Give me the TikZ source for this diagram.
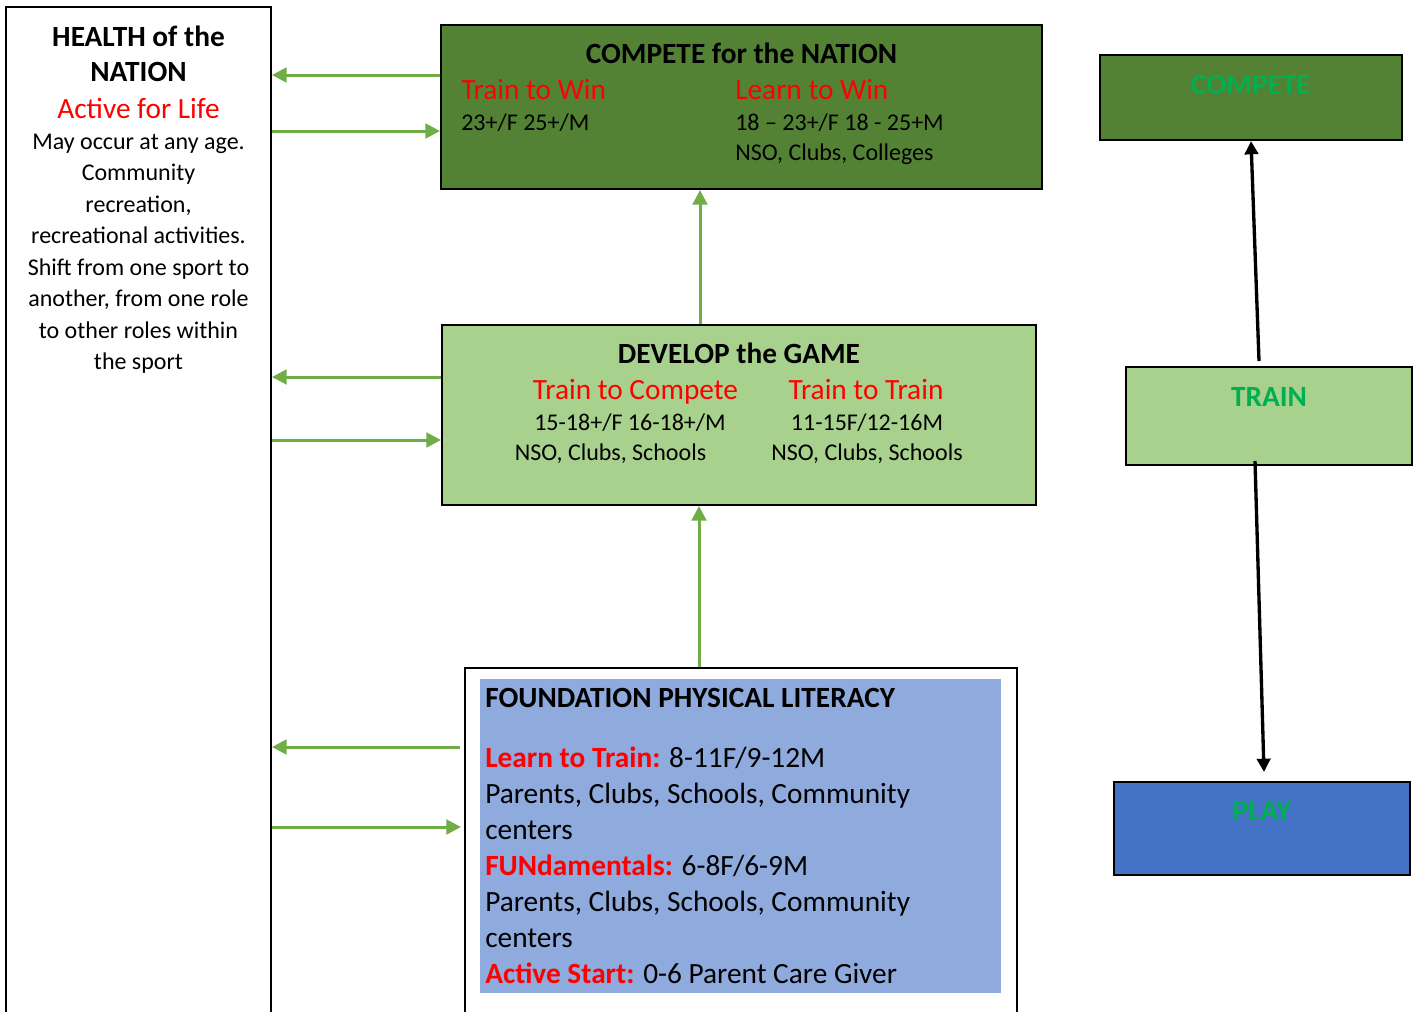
\documentclass[tikz,border=0pt]{standalone}
\usepackage{fontspec}
\setmainfont{Carlito}
\usetikzlibrary{arrows.meta,fit,calc}

\definecolor{darkgrn}{RGB}{84,130,53}
\definecolor{lightgrn}{RGB}{169,209,142}
\definecolor{paleblue}{RGB}{143,170,220}
\definecolor{playblue}{RGB}{68,114,196}
\definecolor{brightgrn}{RGB}{0,176,80}
\definecolor{arrowgrn}{RGB}{112,173,71}

\tikzset{
  box/.style={draw=black, line width=1.5pt, inner sep=0pt},
  garrow/.style={color=arrowgrn, line width=2.25pt, -{Triangle[length=11pt,width=11pt]}},
  barrow/.style={color=black, line width=2.5pt, -{Triangle[length=10pt,width=10pt]}},
  ttl/.style={inner sep=0pt, font=\fontsize{22}{26.25}\selectfont\bfseries},
  redtxt/.style={inner sep=0pt, text=red, font=\fontsize{22}{26.25}\selectfont},
  bodytxt/.style={inner sep=0pt, font=\fontsize{18}{22.5}\selectfont},
  bigtxt/.style={inner sep=0pt, font=\fontsize{22}{27}\selectfont},
  tagtxt/.style={inner sep=0pt, text=brightgrn, font=\fontsize{22}{26.25}\selectfont\bfseries}
}

\begin{document}
\begin{tikzpicture}[x=0.75pt,y=0.75pt,yscale=-1,xscale=1]
\useasboundingbox (0,0) rectangle (1419,1011);
\clip (0,0) rectangle (1419,1011);

%Shape: Rectangle [health of the nation]
\node[box, fit={(6,7) (271,1030)}] (health) {};
%Shape: Rectangle [compete for the nation]
\node[box, fill=darkgrn, fit={(441,25) (1042,189)}] (compete) {};
%Shape: Rectangle [develop the game]
\node[box, fill=lightgrn, fit={(442,325) (1036,505)}] (develop) {};
%Shape: Rectangle [foundation]
\node[box, fill=white, fit={(465,668) (1017,1030)}] (found) {};
\node[inner sep=0pt, fill=paleblue, fit={(480,679) (1001,993)}] (foundbg) {};
%Shape: Rectangle [right column]
\node[box, fill=darkgrn, fit={(1100,55) (1402,140)}] (rcompete) {};
\node[box, fill=lightgrn, fit={(1126,367) (1412,465)}] (train) {};
\node[box, fill=playblue, fit={(1114,782) (1410,875)}] (play) {};

% Text Node
\node[ttl, anchor=base, text width=190pt, align=flush center] (hnttl) at (138.5,46.7) {HEALTH of the\\NATION};
\node[redtxt, anchor=base] (hnred) at (138.5,118) {Active for Life};
\node[bodytxt, font=\fontsize{18}{23.6}\selectfont, anchor=base, text width=195pt, align=flush center] (hnbody) at (138.5,149.5) {May occur at any age.\\Community\\recreation,\\recreational activities.\\Shift from one sport to\\another, from one role\\to other roles within\\the sport};

% Text Node
\node[ttl, anchor=base] (cpttl) at (741.5,63) {COMPETE for the NATION};
\node[redtxt, anchor=base west] (cpwin) at (461,99) {Train to Win};
\node[bodytxt, anchor=base west] (cpwinage) at (461,130) {23+/F 25+/M};
\node[redtxt, anchor=base west] (cplearn) at (735,99) {Learn to Win};
\node[bodytxt, anchor=base west, text width=220pt, align=flush left] (cplearnage) at (735,130) {18 – 23+/F 18 - 25+M\\NSO, Clubs, Colleges};

% Text Node
\node[ttl, anchor=base] (dvttl) at (739,363) {DEVELOP the GAME};
\node[redtxt, anchor=base] (dvcomp) at (635.5,399) {Train to Compete};
\node[bodytxt, anchor=base] (dvcompage) at (630,430) {15-18+/F 16-18+/M};
\node[bodytxt, anchor=base] (dvcompwho) at (610.5,460) {NSO, Clubs, Schools};
\node[redtxt, anchor=base] (dvtrain) at (866,399) {Train to Train};
\node[bodytxt, anchor=base, text width=180pt, align=flush center] (dvtrainage) at (867,430) {11-15F/12-16M\\NSO, Clubs, Schools};

% Text Node
\node[ttl, anchor=base west] (fdttl) at (485,707) {FOUNDATION PHYSICAL LITERACY};
\node[bigtxt, anchor=base west, text width=390pt, align=flush left] (fdbody) at (485,767.4) {\textcolor{red}{\bfseries Learn to Train:} 8-11F/9-12M\\Parents, Clubs, Schools, Community\\centers\\\textcolor{red}{\bfseries FUNdamentals:} 6-8F/6-9M\\Parents, Clubs, Schools, Community\\centers\\\textcolor{red}{\bfseries Active Start:} 0-6 Parent Care Giver};

% Text Node
\node[tagtxt, anchor=base] (cptag) at (1251,94) {COMPETE};
\node[tagtxt, anchor=base] (trtag) at (1269,406) {TRAIN};
\node[tagtxt, anchor=base] (plytag) at (1262,820) {PLAY};

%Straight Lines [green, left and right]
\coordinate (cw1) at ($(compete.west)+(0,-32)$);
\coordinate (cw2) at ($(compete.west)+(0,24)$);
\draw[garrow] (cw1) -- (cw1 -| health.east);
\draw[garrow] (cw2 -| health.east) -- (cw2);
\coordinate (dw1) at ($(develop.west)+(0,-38)$);
\coordinate (dw2) at ($(develop.west)+(0,25)$);
\draw[garrow] (dw1) -- (dw1 -| health.east);
\draw[garrow] (dw2 -| health.east) -- (dw2);
\coordinate (fd1) at ($(found.west)+(-4,-102)$);
\coordinate (fd2) at ($(found.west)+(-3,-22)$);
\draw[garrow] (fd1) -- (fd1 -| health.east);
\draw[garrow] (fd2 -| health.east) -- (fd2);

%Straight Lines [green, upwards]
\coordinate (dvtop) at ($(develop.north)+(-39,0)$);
\draw[garrow] (dvtop) -- (dvtop |- compete.south);
\coordinate (fdtop) at ($(found.north)+(-42,0)$);
\draw[garrow] (fdtop) -- (fdtop |- develop.south);

%Straight Lines [black]
\coordinate (trtop) at ($(train.north)+(-10,-5)$);
\draw[barrow] (trtop) -- (rcompete.south);
\coordinate (trbot) at ($(train.south)+(-14,-5)$);
\coordinate (plytop) at ($(play.north)+(2,-9)$);
\draw[barrow] (trbot) -- (plytop);

\end{tikzpicture}
\end{document}
